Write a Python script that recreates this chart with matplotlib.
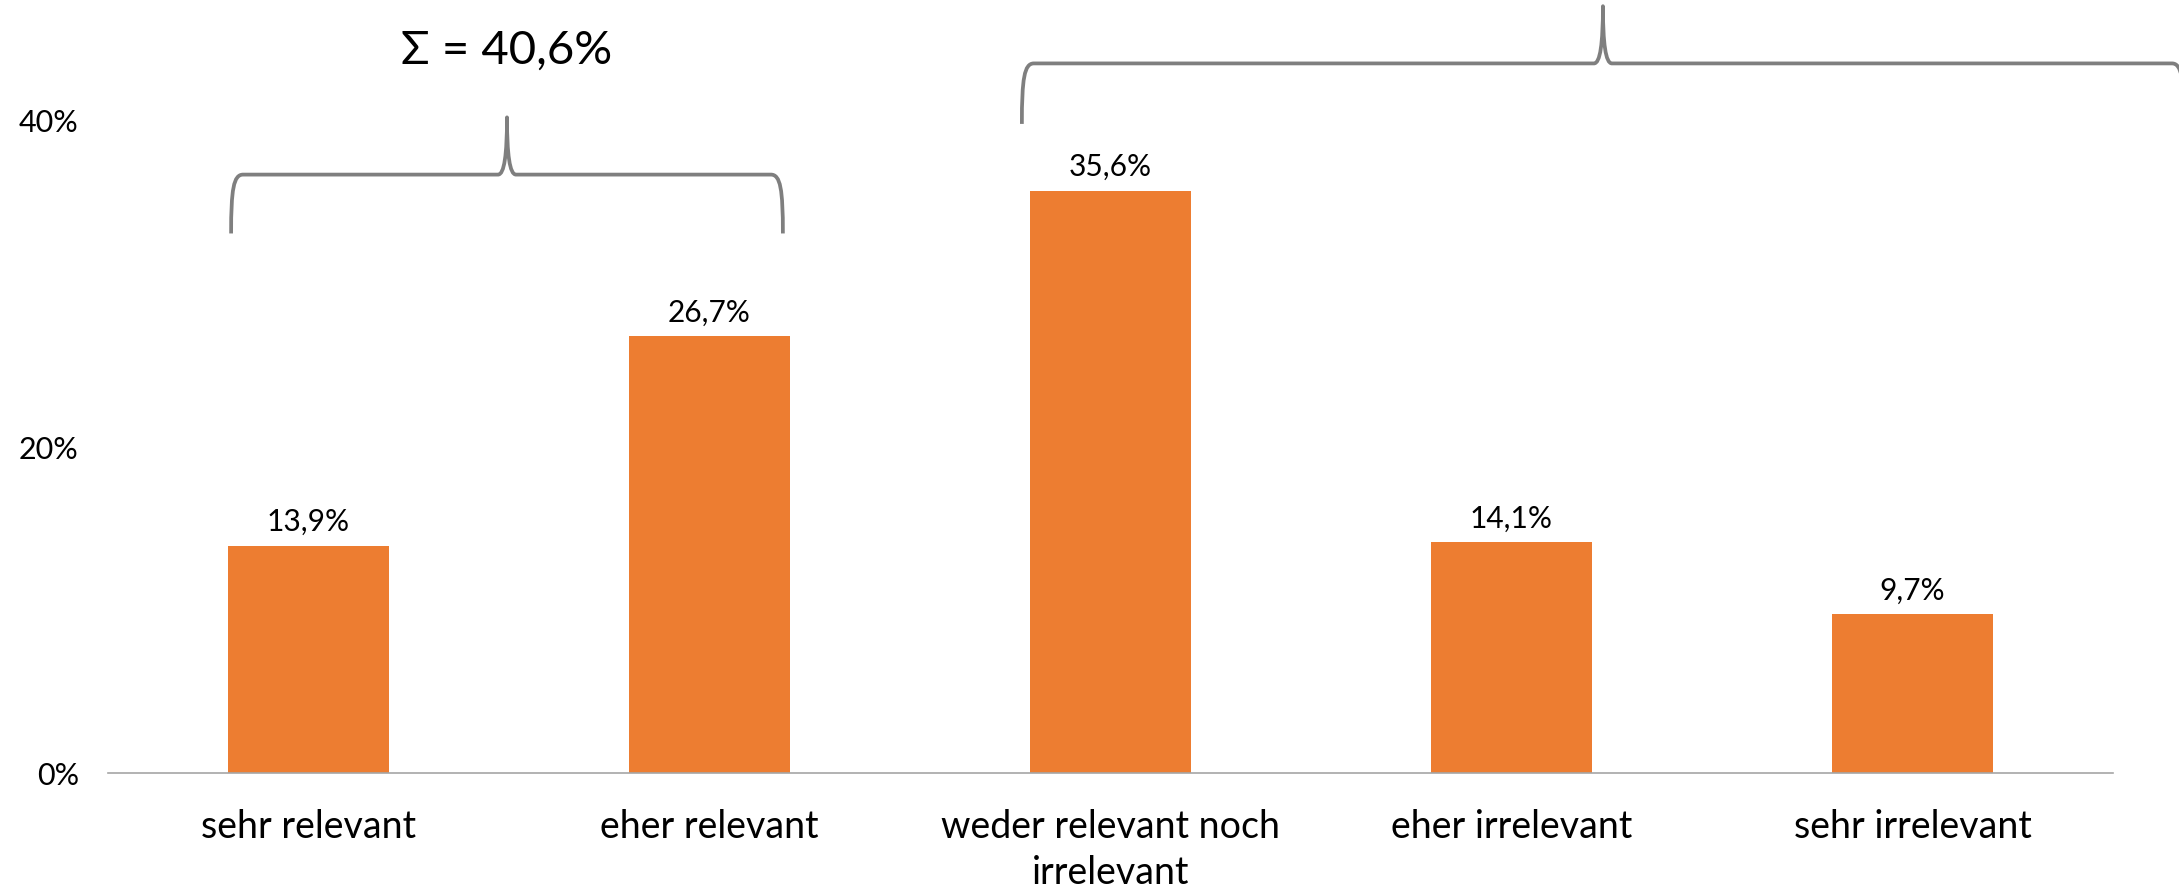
import matplotlib
matplotlib.use("Agg")
import matplotlib.pyplot as plt
from matplotlib.path import Path
from matplotlib.patches import PathPatch

plt.rcParams['font.family'] = ['Lato', 'DejaVu Sans']

categories = ["sehr relevant", "eher relevant", "weder relevant noch\nirrelevant",
              "eher irrelevant", "sehr irrelevant"]
values = [13.9, 26.7, 35.6, 14.1, 9.7]
value_labels = ["13,9%", "26,7%", "35,6%", "14,1%", "9,7%"]
yticks = [0, 20, 40]
ytick_labels = ["0%", "20%", "40%"]
sum_label = "Σ = 40,6%"

W, H, DPI = 2179, 887, 100
fig = plt.figure(figsize=(W / DPI, H / DPI), dpi=DPI)
ax = fig.add_axes([108 / W, 113 / H, 2005 / W, 774 / H])
ax.set_xlim(-0.5, 4.5)
ax.set_ylim(0, 47.34)

x = list(range(len(categories)))
bars = ax.bar(x, values, width=0.4, color="#ED7D31", zorder=2)
for xi, v, lab in zip(x, values, value_labels):
    ax.annotate(lab, (xi, v), xytext=(0, 8), textcoords="offset points",
                ha="center", va="bottom", fontsize=21.5, color="#000000")

ax.set_xticks(x)
ax.set_xticklabels(categories, fontsize=27, linespacing=1.35)
ax.set_yticks(yticks)
ax.set_yticklabels(ytick_labels, fontsize=22)
ax.tick_params(axis="both", length=0)
ax.tick_params(axis="x", pad=25)
ax.tick_params(axis="y", pad=21)
for s in ["top", "right", "left"]:
    ax.spines[s].set_visible(False)
ax.spines["bottom"].set_color("#a6a6a6")
ax.spines["bottom"].set_linewidth(1.2)

# pixel -> data scale
px_x = 2005 / 5.0
px_y = 774 / 47.34


def brace(x0, x1, yb, yh, yt):
    xc = (x0 + x1) / 2
    cx = 12 / px_x     # corner horizontal extent
    tx = 9 / px_x      # tip horizontal extent
    verts = [
        (x0, yb),
        (x0, yb + 0.75 * (yh - yb)), (x0 + 0.2 * cx, yh), (x0 + cx, yh),
        (xc - tx, yh),
        (xc - 0.3 * tx, yh), (xc, yh + 0.35 * (yt - yh)), (xc, yt),
        (xc, yh + 0.35 * (yt - yh)), (xc + 0.3 * tx, yh), (xc + tx, yh),
        (x1 - cx, yh),
        (x1 - 0.2 * cx, yh), (x1, yb + 0.75 * (yh - yb)), (x1, yb),
    ]
    codes = [Path.MOVETO,
             Path.CURVE4, Path.CURVE4, Path.CURVE4,
             Path.LINETO,
             Path.CURVE4, Path.CURVE4, Path.CURVE4,
             Path.CURVE4, Path.CURVE4, Path.CURVE4,
             Path.LINETO,
             Path.CURVE4, Path.CURVE4, Path.CURVE4]
    p = PathPatch(Path(verts, codes), fill=False, edgecolor="#7f7f7f",
                  linewidth=2.7, clip_on=False, capstyle="butt", joinstyle="round")
    ax.add_patch(p)
    return xc


xc1 = brace(-0.193, 1.183, 33.0, 36.6, 40.1)
brace(1.779, 4.677, 39.7, 43.4, 46.9)
ax.text(xc1, 47.34 - 51 / px_y, sum_label, ha="center", va="center", fontsize=34)

fig.savefig("out.png", dpi=DPI)
